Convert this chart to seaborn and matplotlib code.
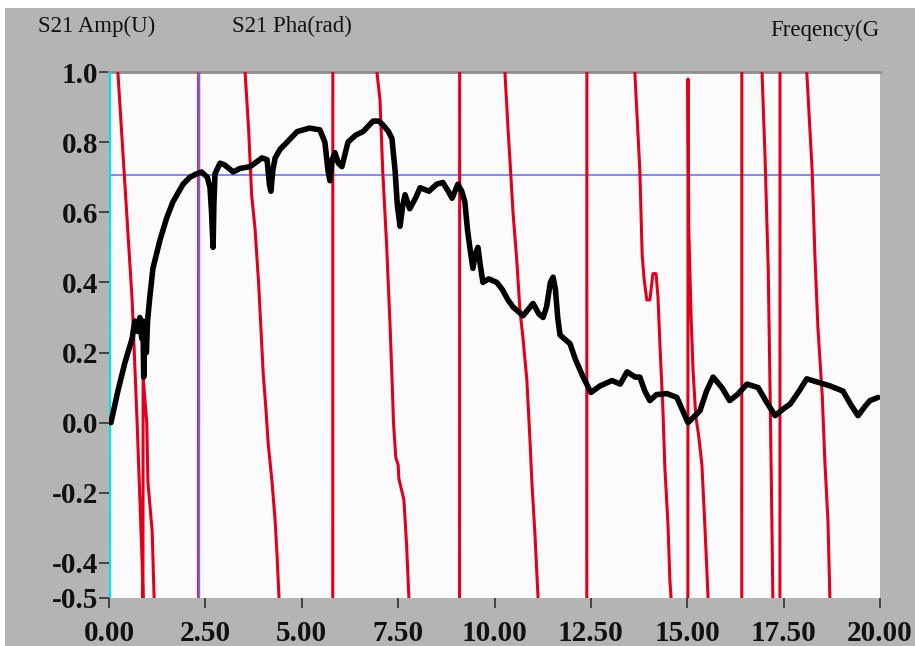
import matplotlib
matplotlib.use("Agg")
import matplotlib.pyplot as plt
import matplotlib.patches as mpatches
import seaborn as sns
import pandas as pd

# ---------------- data ----------------
amp_freq = [0.05, 0.23, 0.41, 0.6, 0.67, 0.75, 0.8, 0.85, 0.88, 0.9, 0.93, 0.97, 1.0, 1.06, 1.14,
            1.32, 1.5, 1.66, 1.92, 2.1, 2.28, 2.4, 2.55, 2.62, 2.66, 2.7, 2.72, 2.75, 2.88, 3.0,
            3.22, 3.4, 3.66, 3.97, 4.1, 4.16, 4.2, 4.25, 4.31, 4.44, 4.62, 4.88, 5.2, 5.47, 5.6,
            5.68, 5.73, 5.79, 5.86, 5.95, 6.04, 6.2, 6.4, 6.59, 6.85, 7.0, 7.1, 7.25, 7.34, 7.42,
            7.48, 7.55, 7.62, 7.68, 7.8, 7.95, 8.07, 8.3, 8.5, 8.66, 8.8, 8.9, 9.05, 9.15, 9.23,
            9.3, 9.36, 9.44, 9.5, 9.57, 9.63, 9.7, 9.85, 10.06, 10.2, 10.35, 10.48, 10.74, 10.85,
            11.0, 11.15, 11.26, 11.35, 11.45, 11.52, 11.58, 11.64, 11.7, 11.96, 12.1, 12.3, 12.5,
            12.74, 13.05, 13.26, 13.44, 13.65, 13.77, 13.9, 14.03, 14.2, 14.47, 14.73, 14.9, 15.02,
            15.33, 15.5, 15.67, 15.9, 16.1, 16.3, 16.55, 16.84, 17.05, 17.28, 17.5, 17.67, 17.9,
            18.1, 18.4, 18.7, 19.04, 19.25, 19.43, 19.6, 19.74, 19.95]
amp_val = [0.0, 0.09, 0.17, 0.24, 0.29, 0.26, 0.3, 0.24, 0.29, 0.13, 0.25, 0.2, 0.29, 0.36, 0.44,
           0.52, 0.585, 0.63, 0.68, 0.70, 0.71, 0.715, 0.70, 0.67, 0.6, 0.5, 0.62, 0.71, 0.74, 0.735,
           0.715, 0.725, 0.73, 0.755, 0.75, 0.68, 0.66, 0.72, 0.755, 0.78, 0.80, 0.83, 0.84, 0.835, 0.80,
           0.72, 0.69, 0.75, 0.77, 0.74, 0.73, 0.80, 0.82, 0.83, 0.86, 0.86, 0.85, 0.83, 0.81, 0.72,
           0.62, 0.56, 0.62, 0.65, 0.61, 0.64, 0.67, 0.66, 0.68, 0.685, 0.66, 0.64, 0.68, 0.66, 0.63,
           0.55, 0.50, 0.44, 0.48, 0.50, 0.45, 0.40, 0.41, 0.40, 0.38, 0.35, 0.33, 0.305, 0.32,
           0.34, 0.31, 0.30, 0.33, 0.40, 0.415, 0.38, 0.30, 0.25, 0.225, 0.18, 0.13, 0.086,
           0.105, 0.12, 0.11, 0.145, 0.13, 0.13, 0.09, 0.063, 0.08, 0.083, 0.072, 0.03, 0.0,
           0.034, 0.09, 0.13, 0.10, 0.063, 0.08, 0.11, 0.10, 0.06, 0.02, 0.04, 0.053, 0.09,
           0.125, 0.115, 0.105, 0.09, 0.05, 0.02, 0.045, 0.063, 0.072]

pha_freq = [0.0, 0.23, 0.6, 0.73, 0.86, 0.88, 0.885, 0.98, 1.01, 1.12, 1.17, 2.32, 2.33,
            3.53, 3.62, 3.7, 3.79, 3.88, 3.95, 4.0, 4.07, 4.13, 4.23, 4.31, 4.36, 4.41, 5.80, 5.81,
            6.95, 7.03, 7.1, 7.2, 7.29, 7.35, 7.38, 7.44, 7.5, 7.52, 7.65, 7.72, 7.78, 9.09, 9.1,
            10.27, 10.35, 10.4, 10.48, 10.58, 10.66, 10.74, 10.84, 10.92, 10.97, 11.05, 11.13,
            12.39, 12.4, 13.64, 13.77, 13.83, 13.88, 13.95, 14.03, 14.11, 14.19, 14.24, 14.29,
            14.37, 14.42, 14.5, 14.55, 14.58, 15.01, 15.02, 15.04, 15.1, 15.15, 15.22, 15.3,
            15.38, 15.46, 15.52, 15.54, 16.41, 16.42, 16.94, 17.02, 17.1, 17.15, 17.2, 17.22,
            17.40, 17.41, 18.1, 18.24, 18.31, 18.39, 18.5, 18.57, 18.65, 18.7, 20.0]
pha_val = [1.45, 1.0, 0.35, 0.0, -0.4, -0.5, 0.13, 0.0, -0.17, -0.31, -0.5, -3.1, 3.1,
           1.0, 0.84, 0.65, 0.55, 0.4, 0.25, 0.14, 0.04, -0.06, -0.17, -0.28, -0.38, -0.5, -3.1, 3.1,
           1.0, 0.92, 0.72, 0.51, 0.28, 0.1, 0.0, -0.1, -0.12, -0.16, -0.22, -0.35, -0.5, -3.1, 3.1,
           1.0, 0.84, 0.75, 0.6, 0.46, 0.32, 0.24, 0.12, -0.05, -0.17, -0.32, -0.5,
           -3.1, 3.1, 1.0, 0.72, 0.48, 0.41, 0.35, 0.35, 0.425, 0.425, 0.36, 0.225,
           0.034, -0.13, -0.29, -0.45, -0.5, -3.1, 0.98, 0.55, 0.3, 0.15, 0.02, -0.04,
           -0.12, -0.3, -0.45, -0.5, -3.1, 3.1, 1.0, 0.75, 0.44, 0.08, -0.32, -0.5,
           -3.1, 3.1, 1.0, 0.72, 0.48, 0.27, 0.08, -0.11, -0.28, -0.5, -3.0]

cursor_level = 0.707
cursor_freq = 2.33

x_ticks = [0, 2.5, 5, 7.5, 10, 12.5, 15, 17.5, 20]
x_tick_labels = ["0.00", "2.50", "5.00", "7.50", "10.00", "12.50", "15.00", "17.50", "20.00"]
y_ticks = [1.0, 0.8, 0.6, 0.4, 0.2, 0.0, -0.2, -0.4, -0.5]
y_tick_labels = ["1.0", "0.8", "0.6", "0.4", "0.2", "0.0", "-0.2", "-0.4", "-0.5"]

amp_df = pd.DataFrame({"freq": amp_freq, "val": amp_val})
pha_df = pd.DataFrame({"freq": pha_freq, "val": pha_val})

# ---------------- figure ----------------
sns.set_theme(style="white")
plt.rcParams["font.family"] = ["Liberation Serif", "DejaVu Serif"]

W, H = 915, 646
fig = plt.figure(figsize=(W / 100, H / 100), dpi=100, facecolor="white")
bg = mpatches.Rectangle((5 / W, 0), 1 - 5 / W, 1 - 8 / H, transform=fig.transFigure,
                        facecolor="#b4b4b4", edgecolor="none", zorder=-10)
fig.patches.append(bg)

ax = fig.add_axes([109 / W, 1 - 598 / H, (880 - 109) / W, (598 - 72) / H])
ax.set_zorder(1)
ax.set_facecolor("#fbfbfb")

ax.axhline(cursor_level, color="#6f6fff", lw=1.2, zorder=2)
sns.lineplot(data=pha_df, x="freq", y="val", sort=False, estimator=None, ax=ax,
             color="#e0001b", lw=2.2, zorder=3)
ax.axvline(cursor_freq, color="#6f6fff", lw=1.2, zorder=4)
ax.axvline(0.0, color="#00e0f0", lw=2.4, zorder=4)
sns.lineplot(data=amp_df, x="freq", y="val", sort=False, estimator=None, ax=ax,
             color="black", lw=4.0, zorder=5, solid_joinstyle="round", solid_capstyle="round")

ax.set_xlim(0, 20)
ax.set_ylim(-0.5, 1.0)
ax.set_xlabel("")
ax.set_ylabel("")
ax.set_xticks(x_ticks)
ax.set_xticklabels(x_tick_labels)
ax.set_yticks(y_ticks)
ax.set_yticklabels(y_tick_labels)

for s in ["left", "right", "bottom"]:
    ax.spines[s].set_visible(False)
ax.spines["top"].set_color("#8f8f8f")
ax.spines["top"].set_linewidth(2)

ax.tick_params(axis="both", which="both", direction="out", length=7, width=1.2,
               color="#303030", left=True, bottom=True)
ax.tick_params(axis="x", pad=9)
ax.tick_params(axis="y", pad=1)
for lab in ax.get_xticklabels() + ax.get_yticklabels():
    lab.set_fontsize(21)
    lab.set_fontweight("bold")
    lab.set_color("#111111")

hdr = dict(fontsize=16.5, color="#111111", va="center", ha="left")
fig.text(38 / W, 1 - 26 / H, "S21 Amp(U)", **hdr)
fig.text(232 / W, 1 - 26 / H, "S21 Pha(rad)", **hdr)
fig.text(770 / W, 1 - 30 / H, "Freqency(G", **hdr)

fig.savefig("out.png", dpi=100, facecolor=fig.get_facecolor())
